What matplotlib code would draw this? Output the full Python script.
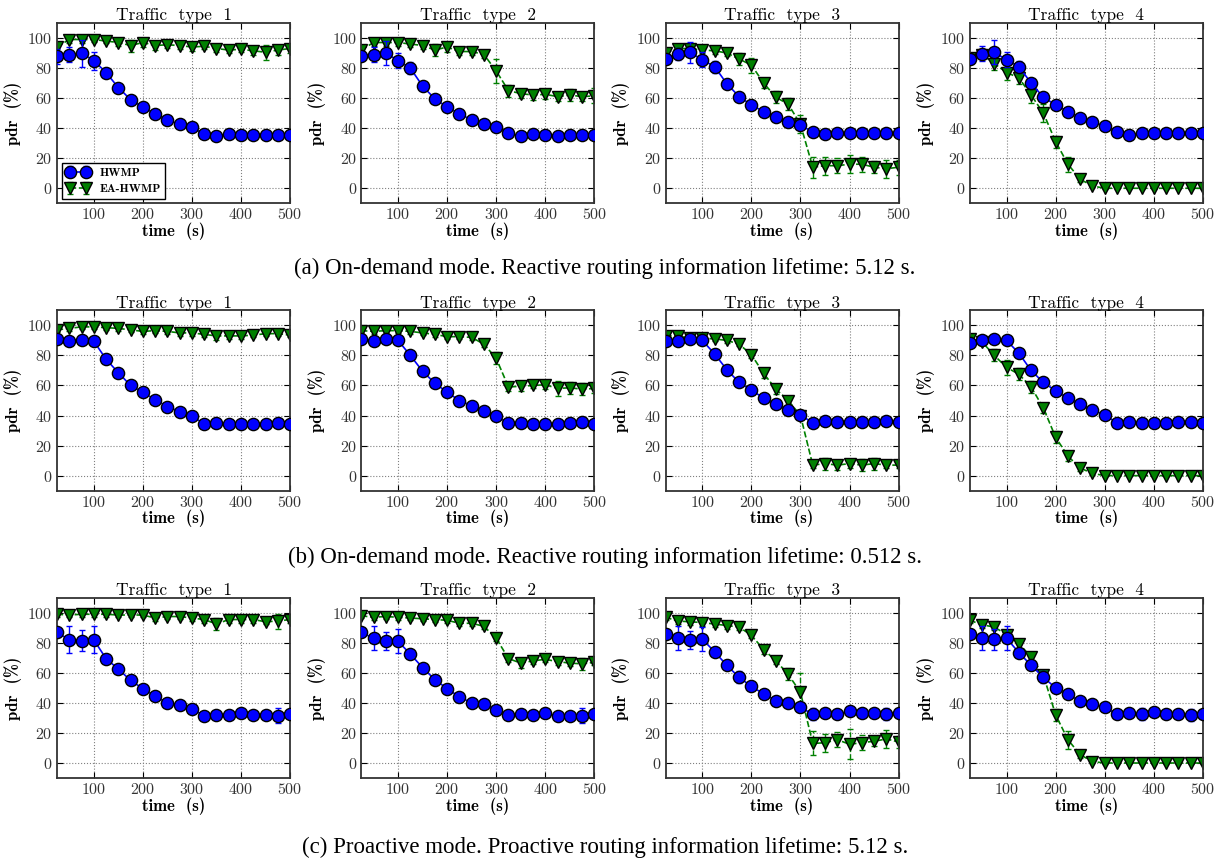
import matplotlib
matplotlib.use("Agg")
import matplotlib.pyplot as plt

# time axis (s)
times = [25, 50, 75, 100, 125, 150, 175, 200, 225, 250,
         275, 300, 325, 350, 375, 400, 425, 450, 475, 500]

traffic_types = ["Traffic  type  1", "Traffic  type  2", "Traffic  type  3", "Traffic  type  4"]

captions = [
    "(a) On-demand mode. Reactive routing information lifetime: 5.12 s.",
    "(b) On-demand mode. Reactive routing information lifetime: 0.512 s.",
    "(c) Proactive mode. Proactive routing information lifetime: 5.12 s.",
]

# (a) on-demand, 5.12 s
hwmp_a = [
    [88, 89, 90, 85, 77, 67, 59, 54, 49.5, 45.5, 42.5, 40.5, 36, 35, 36, 35.5, 35.5, 35.5, 35.5, 35.5],
    [88, 89, 90, 85, 80, 68, 59.5, 54, 49.5, 45.5, 42.5, 41, 36.5, 35, 36, 35.5, 35, 35.5, 35.5, 35.5],
    [86, 89.5, 90.5, 85.5, 81, 69.5, 61, 55.5, 51, 47.5, 44, 42, 37.5, 36, 37, 36.5, 36.5, 36.5, 36.5, 36.5],
    [86, 89.5, 90.5, 85.5, 81, 70, 60.5, 55.5, 51, 47, 44, 41.5, 37.5, 35.5, 36.5, 36.5, 36.5, 36.5, 36.5, 36.5],
]
hwmp_err_a = [
    [5, 5, 9, 6, 3, 1.5, 1, 1, 1, 1, 1, 1, 1, 1, 1, 1, 1, 1, 1, 1],
    [3, 5, 8, 5, 4, 1.5, 1, 1, 1, 1, 1, 1, 1, 1, 1, 1, 1, 1, 1, 1],
    [3, 4, 7, 5, 4, 1.5, 1, 1, 1, 1, 1, 1, 1, 1, 1, 1, 1, 1, 1, 1],
    [3, 5, 8, 5, 4, 2, 1, 1, 1, 1, 1, 1, 1, 1, 1, 1, 1, 1, 1, 1],
]
ea_a = [
    [94, 99, 99, 99, 98, 97, 95, 97, 95, 95.5, 95, 94, 94.5, 93, 92, 92.5, 91.5, 90.5, 92, 93],
    [92, 97, 97, 97, 96, 95, 92, 94, 91, 91, 89, 78, 65, 63, 62, 62.5, 61, 62, 61, 61.5],
    [90, 93, 93, 92, 91.5, 90, 86, 82, 70, 60.5, 56, 42.5, 14, 15, 15, 16, 16, 14, 13, 14],
    [87, 89, 83, 77, 73.5, 62, 50, 31, 16, 6, 1.5, 0, 0, 0, 0, 0, 0, 0, 0, 0],
]
ea_err_a = [
    [3, 2, 2, 1.5, 1.5, 2, 4, 3, 3, 2, 2, 2.5, 2, 2, 2, 2, 3, 5, 3, 3],
    [2, 2, 2, 2, 2, 2, 4, 3, 2, 2, 2, 8, 4, 3, 3, 3, 3, 4, 3, 5],
    [2, 2, 3, 2, 2, 2, 4, 5, 3, 4, 4, 6, 7, 6, 5, 6, 5, 4, 6, 5],
    [2, 3, 4, 5, 4, 5, 6, 4, 5, 2, 1, 0.5, 0.5, 0.5, 0.5, 0.5, 0.5, 0.5, 0.5, 0.5],
]

# (b) on-demand, 0.512 s
hwmp_b = [
    [91, 89.5, 90.5, 89.5, 77.5, 68.5, 60, 55.5, 50.5, 46, 42.5, 39.5, 34.5, 35, 34.5, 34.5, 34.5, 34.5, 35, 34.5],
    [91, 89.5, 91, 90, 80, 69.5, 61.5, 55.5, 50, 46.5, 43, 39.5, 35, 35, 34.5, 34.5, 34.5, 35, 35.5, 34.5],
    [89.5, 89.5, 91, 90, 81, 70.5, 62, 57, 51.5, 47.5, 43.5, 40.5, 35, 36.5, 36, 36, 35.5, 36, 36.5, 36],
    [88, 90, 91, 90, 81.5, 70, 62, 56.5, 51.5, 47.5, 43.5, 40.5, 35, 35.5, 35, 35, 35, 35.5, 35.5, 35],
]
hwmp_err_b = [
    [1.5, 1, 1, 1, 1.5, 1, 1, 1, 1, 1, 1, 1, 1, 1, 1, 1, 1, 1, 1, 1],
    [1.5, 1, 1, 1, 3, 1, 1, 1, 1, 1, 1, 1, 1, 1, 1, 1, 1, 1, 1, 1],
    [1.5, 1, 1, 1, 3, 1, 1, 1, 1, 1, 1, 1, 1, 1, 1, 1, 1, 1, 1, 1],
    [1.5, 1, 1, 1, 1.5, 1, 1, 1, 1, 1, 1, 1, 1, 1, 1, 1, 1, 1, 1, 1],
]
ea_b = [
    [97, 98, 99, 99, 98.5, 98, 97, 96, 96.5, 96, 95, 95, 94, 93, 93, 93, 93.5, 94.5, 94.5, 93.5],
    [96.5, 96, 96.5, 96.5, 96, 95, 94, 92.5, 92.5, 92, 87.5, 78, 59, 59.5, 60, 60.5, 58, 58.5, 57.5, 58],
    [93, 93, 91.5, 91.5, 91, 90, 87.5, 80.5, 68, 57.5, 50, 40, 7, 8, 7, 8, 7, 8, 7, 7],
    [91, 89, 80, 72, 67.5, 59, 45, 25.5, 13, 5, 1.5, 0, 0, 0, 0, 0, 0, 0, 0, 0],
]
ea_err_b = [
    [1.5, 1.5, 1.5, 1.5, 1.5, 1.5, 1.5, 2, 1.5, 1.5, 2, 2, 2, 3, 2, 2, 1.5, 1.5, 1.5, 1.5],
    [1.5, 1.5, 1.5, 1.5, 1.5, 1.5, 1.5, 1.5, 1.5, 1.5, 2, 4, 3, 3, 2, 3, 5, 4, 4, 3],
    [1.5, 1.5, 1.5, 1.5, 1.5, 1.5, 1.5, 2, 3, 3, 3, 2, 2, 4, 3, 3, 4, 4, 2, 2],
    [2, 2, 4, 5, 4, 4, 3, 4, 3, 2, 1, 0.5, 0.5, 0.5, 0.5, 0.5, 0.5, 0.5, 0.5, 0.5],
]

# (c) proactive, 5.12 s
hwmp_c = [
    [87, 82, 81.5, 82, 69.5, 62.5, 55, 49.5, 44.5, 40, 38.5, 36, 31.5, 32, 32, 33.5, 32, 32, 31.5, 32.5],
    [87, 83, 81, 81, 72.5, 63.5, 55.5, 49.5, 44, 40, 39, 35.5, 32, 32.5, 32, 33, 31.5, 31.5, 31.5, 32.5],
    [86, 83, 82, 82.5, 74, 65, 57, 51, 46, 41.5, 40, 37, 32.5, 33.5, 32.5, 34.5, 33, 33, 32.5, 33.5],
    [86, 83, 82.5, 83, 73.5, 65, 57, 50, 46, 41, 39.5, 37, 32.5, 33, 32.5, 34, 32.5, 32.5, 32, 32.5],
]
hwmp_err_c = [
    [3, 9, 7, 9, 1.5, 1.5, 3, 1.5, 1, 1, 1, 1.5, 2, 1, 1, 1, 1, 1, 5, 1],
    [3, 8, 6, 8, 1.5, 1.5, 3, 1.5, 1, 1, 1, 1.5, 1.5, 1, 1, 1, 1, 1, 5, 1],
    [3, 8, 6, 8, 1.5, 1.5, 4, 1.5, 1, 1, 1, 1.5, 4, 1, 1, 1, 1, 1, 4, 1],
    [3, 8, 7, 8, 1.5, 1.5, 4, 1.5, 1, 1, 1, 1.5, 1.5, 1, 4, 1, 1, 1, 4, 1],
]
ea_c = [
    [99, 98.5, 99, 99, 99, 98.5, 98.5, 98.5, 96.5, 97.5, 97.5, 96.5, 95.5, 92.5, 95.5, 95.5, 95.5, 94, 94.5, 95.5],
    [98, 97, 97.5, 97, 96.5, 96, 95.5, 95, 93, 93, 91, 83, 69.5, 66.5, 68, 69, 67.5, 66.5, 66, 67],
    [97, 94.5, 94, 93.5, 92.5, 91.5, 90.5, 85, 75.5, 68, 59, 47, 13, 13.5, 15.5, 12.5, 13.5, 14.5, 16, 14],
    [95, 92, 90.5, 85.5, 79.5, 70.5, 58.5, 32, 15.5, 5.5, 1, 0, 0, 0, 0, 0, 0, 0, 0, 0],
]
ea_err_c = [
    [1.5, 1.5, 1.5, 1.5, 1.5, 1.5, 1.5, 1.5, 2, 1.5, 1.5, 2, 2, 4, 2, 2, 2, 1.5, 5, 2],
    [1.5, 1.5, 1.5, 1.5, 1.5, 1.5, 1.5, 1.5, 2, 2, 2, 2, 2, 3, 2, 2, 2, 2, 4, 2],
    [2, 2, 2, 2, 2, 2, 2, 2, 3, 2, 4, 13, 8, 6, 5, 10, 5, 3, 6, 4],
    [2, 2, 2, 3, 3, 3, 3, 4, 6, 2, 1, 0.5, 0.5, 0.5, 0.5, 0.5, 0.5, 0.5, 0.5, 0.5],
]

modes = [
    (hwmp_a, hwmp_err_a, ea_a, ea_err_a),
    (hwmp_b, hwmp_err_b, ea_b, ea_err_b),
    (hwmp_c, hwmp_err_c, ea_c, ea_err_c),
]

plt.rcParams['font.family'] = ['cmr10', 'DejaVu Serif']
plt.rcParams['axes.formatter.use_mathtext'] = True
plt.rcParams['axes.unicode_minus'] = False

fig, axes = plt.subplots(3, 4, figsize=(12.2, 8.64), dpi=100)
fig.subplots_adjust(left=0.0467, right=0.986, top=0.9734, bottom=0.0995,
                    wspace=0.305, hspace=0.594)

for row, (hwmp, hwmp_err, ea, ea_err) in enumerate(modes):
    for col in range(4):
        ax = axes[row, col]
        ax.errorbar(times, hwmp[col], yerr=hwmp_err[col], color='b', ls='-', lw=1.2,
                    marker='o', ms=8.8, mfc='b', mec='k', mew=1.0,
                    elinewidth=1.0, capsize=2, label='HWMP', zorder=3)
        eb = ax.errorbar(times, ea[col], yerr=ea_err[col], color='g', ls='--', lw=1.2,
                         marker='v', ms=8.8, mfc='g', mec='k', mew=1.0,
                         elinewidth=1.0, capsize=2, label='EA-HWMP', zorder=2)
        for lc in eb[2]:
            lc.set_linestyle('--')

        ax.set_xlim(25, 500)
        ax.set_ylim(-10, 110)
        ax.set_xticks([100, 200, 300, 400, 500])
        ax.set_yticks([0, 20, 40, 60, 80, 100])
        ax.grid(True, color='0.5', ls=':', lw=0.8)
        ax.set_axisbelow(True)
        ax.tick_params(direction='in', top=True, right=True, length=4,
                       labelsize=11.5, labelcolor='#333333', pad=3)
        for sp in ax.spines.values():
            sp.set_linewidth(1.3)
            sp.set_color('#333333')

        ax.set_title(traffic_types[col], fontsize=12.5, pad=2)
        ax.set_xlabel('time  (s)', family='cmb10', fontsize=12, labelpad=0)
        ax.set_ylabel('pdr  (%)', family='cmb10', fontsize=12, labelpad=4)

        if row == 0 and col == 0:
            leg = ax.legend(loc='lower left', numpoints=2, fontsize=9,
                            fancybox=False, framealpha=1, edgecolor='k',
                            borderaxespad=0.4, handlelength=2.0,
                            prop={'family': 'cmb10', 'size': 8.5})
            leg.get_frame().set_linewidth(1.0)

caption_y = [1 - 268 / 864, 1 - 557 / 864, 1 - 847 / 864]
for y, text in zip(caption_y, captions):
    fig.text(0.496, y, text, ha='center', va='center',
             family='Liberation Serif', fontsize=16.5)

fig.savefig('out.png', dpi=100)
